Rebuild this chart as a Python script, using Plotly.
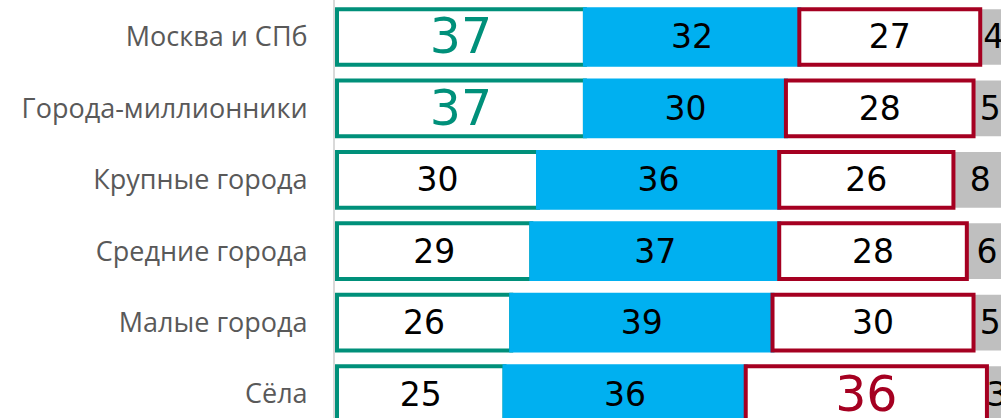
import plotly.graph_objects as go

categories = ["Москва и СПб", "Города-миллионники", "Крупные города",
              "Средние города", "Малые города", "Сёла"]
s_green = [37, 37, 30, 29, 26, 25]
s_blue = [32, 30, 36, 37, 39, 36]
s_red = [27, 28, 26, 28, 30, 36]
s_gray = [4, 5, 8, 6, 5, 3]
hl_green = [True, True, False, False, False, False]
hl_red = [False, False, False, False, False, True]

GREEN = "#00907a"
BLUE = "#00b0f0"
RED = "#a50021"
GRAY = "#bfbfbf"
NUMFONT = "DejaVu Sans"
BASE = 33
BIG = 49
W = 0.78

base_blue = list(s_green)
base_red = [a + b for a, b in zip(s_green, s_blue)]
base_gray = [a + b + c for a, b, c in zip(s_green, s_blue, s_red)]

def sizes(flags):
    return [BIG if f else BASE for f in flags]

def colors(flags, c):
    return [c if f else "black" for f in flags]

common = dict(orientation="h", width=W, textposition="inside",
              insidetextanchor="middle", constraintext="none", textangle=0,
              hoverinfo="skip", showlegend=False)

fig = go.Figure()
fig.add_trace(go.Bar(y=categories, x=s_green, base=[0] * len(s_green),
                     text=s_green,
                     marker=dict(color="white", line=dict(color=GREEN, width=4)),
                     textfont=dict(family=NUMFONT, size=sizes(hl_green),
                                   color=colors(hl_green, GREEN)),
                     **common))
fig.add_trace(go.Bar(y=categories, x=s_blue, base=base_blue, text=s_blue,
                     marker=dict(color=BLUE, line=dict(color=BLUE, width=4)),
                     textfont=dict(family=NUMFONT, size=BASE, color="black"),
                     **common))
fig.add_trace(go.Bar(y=categories, x=s_gray, base=base_gray, text=s_gray,
                     marker=dict(color=GRAY, line=dict(width=0)),
                     textfont=dict(family=NUMFONT, size=BASE, color="black"),
                     **common))
fig.add_trace(go.Bar(y=categories, x=s_red, base=base_red, text=s_red,
                     marker=dict(color="white", line=dict(color=RED, width=4)),
                     textfont=dict(family=NUMFONT, size=sizes(hl_red),
                                   color=colors(hl_red, RED)),
                     **common))

fig.update_layout(
    width=1001, height=418,
    margin=dict(l=335, r=0, t=0, b=0),
    barmode="overlay",
    paper_bgcolor="white", plot_bgcolor="white",
    xaxis=dict(range=[-0.3, 99.1], visible=False, fixedrange=True),
    yaxis=dict(type="category", categoryorder="array", categoryarray=categories,
               range=[5.336, -0.518], showline=True, linecolor="#d9d9d9",
               linewidth=2, showgrid=False, zeroline=False, ticks="",
               ticklabelstandoff=20, automargin=False, fixedrange=True,
               tickfont=dict(family="Open Sans", size=27, color="#595959")),
)

fig.write_html("out.html", config={"displayModeBar": False, "staticPlot": True},
               post_script="document.body.style.margin='0px';document.body.style.overflow='hidden';")
